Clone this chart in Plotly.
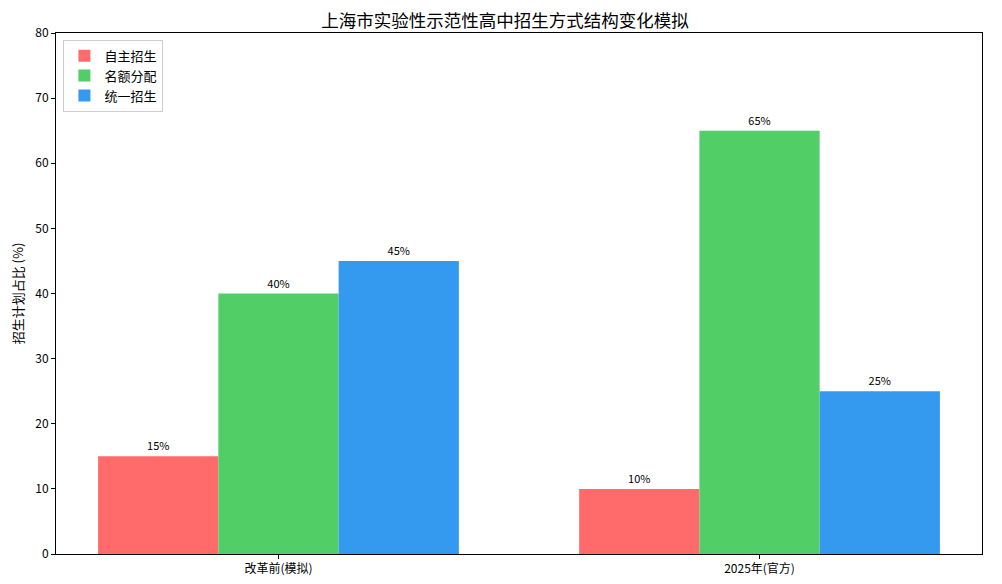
import plotly.graph_objects as go

# 数据
categories = ["改革前(模拟)", "2025年(官方)"]
cat_pos = [0, 1]
self_enroll = [15, 10]
quota_alloc = [40, 65]
unified = [45, 25]

series = [
    ("自主招生", self_enroll, "#FF6B6B"),
    ("名额分配", quota_alloc, "#51CF66"),
    ("统一招生", unified, "#339AF0"),
]

font_cjk = "Noto Sans CJK SC, DejaVu Sans, sans-serif"

fig = go.Figure()
for name, vals, color in series:
    fig.add_trace(go.Bar(
        x=cat_pos,
        y=vals,
        name=name,
        marker=dict(color=color, line=dict(width=0)),
        text=[f"{v}%" for v in vals],
        textposition="outside",
        textfont=dict(size=11, color="black"),
        cliponaxis=False,
    ))

# page body adds ~8px offset, so size the figure to the visible area
fig.update_layout(
    width=994, height=576,
    barmode="group", bargap=0.25, bargroupgap=0,
    plot_bgcolor="white", paper_bgcolor="white",
    font=dict(family=font_cjk, size=12, color="black"),
    margin=dict(l=48, r=20, t=25, b=30, autoexpand=False),
    title=dict(text="上海市实验性示范性高中招生方式结构变化模拟",
               x=0.5, xanchor="center", y=1 - 12.5 / 576, yanchor="middle",
               font=dict(size=17.5, color="black")),
    legend=dict(x=0.008, y=0.987, xanchor="left", yanchor="top",
                bordercolor="#cccccc", borderwidth=1, bgcolor="white",
                font=dict(size=13), tracegroupgap=0),
)
fig.update_xaxes(
    range=[-0.4625, 1.4625], tickvals=cat_pos, ticktext=categories,
    showline=True, linecolor="black", linewidth=1, mirror=True,
    ticks="outside", ticklen=4, tickcolor="black", showgrid=False,
)
fig.update_yaxes(
    range=[0, 80], dtick=10,
    title=dict(text="招生计划占比 (%)", font=dict(size=13), standoff=14),
    showline=True, linecolor="black", linewidth=1, mirror=True,
    ticks="outside", ticklen=4, tickcolor="black", showgrid=False, zeroline=False,
)

fig.write_html("out.html")
